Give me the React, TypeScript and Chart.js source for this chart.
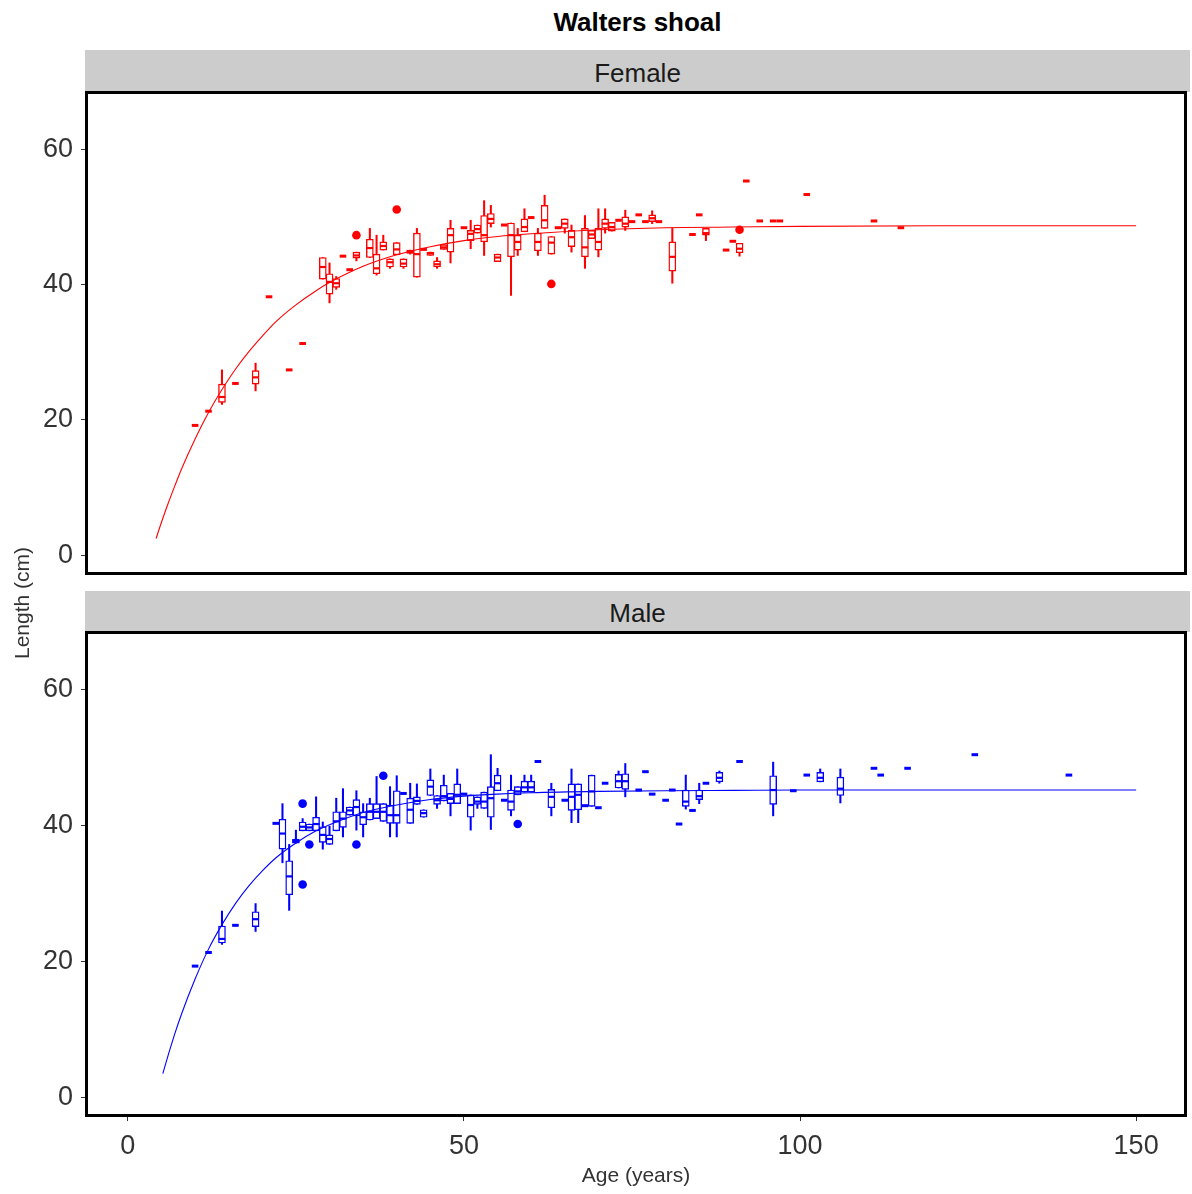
import React, { useEffect, useRef } from "react";
import { Chart, registerables } from "chart.js";

Chart.register(...registerables);

const xTickValues = [0, 50, 100, 150];
const yTickValues = [0, 20, 40, 60];

// Female: [age, min, q1, median, q3, max]
const femaleBoxes: number[][] = [
  [14, 22.3, 22.6, 23.4, 25.3, 27.4],
  [19, 24.3, 25.3, 26.3, 27.3, 28.4],
  [29, 40.8, 40.8, 42.6, 44.0, 44.0],
  [30, 37.3, 38.6, 40.4, 41.6, 43.2],
  [31, 39.3, 39.6, 40.2, 40.9, 41.2],
  [34, 43.5, 43.9, 44.3, 44.8, 44.8],
  [36, 44.0, 44.0, 45.4, 46.7, 48.3],
  [37, 41.4, 41.6, 42.4, 44.5, 47.3],
  [38, 45.1, 45.1, 45.7, 46.3, 47.3],
  [39, 42.4, 42.6, 43.3, 43.8, 43.8],
  [40, 44.4, 44.4, 45.2, 46.2, 46.2],
  [41, 42.4, 42.6, 43.1, 43.8, 43.8],
  [42, 44.5, 44.6, 44.8, 45.1, 45.1],
  [43, 41.1, 41.1, 44.5, 47.6, 48.3],
  [45, 44.3, 44.3, 44.6, 44.8, 44.8],
  [46, 42.4, 42.6, 43.0, 43.5, 44.0],
  [47, 45.2, 45.2, 45.5, 45.9, 45.9],
  [48, 43.2, 44.8, 47.3, 48.3, 49.5],
  [51, 45.3, 46.5, 47.5, 48.0, 49.5],
  [52, 47.6, 47.6, 48.2, 48.8, 48.8],
  [53, 44.3, 46.3, 47.3, 50.2, 52.4],
  [54, 48.5, 49.0, 49.7, 50.5, 51.7],
  [55, 43.4, 43.4, 44.0, 44.5, 44.5],
  [57, 38.4, 44.1, 47.3, 49.1, 49.1],
  [58, 44.3, 45.1, 46.3, 47.3, 48.3],
  [59, 47.8, 47.8, 48.5, 49.7, 51.2],
  [61, 44.3, 45.0, 46.3, 47.6, 48.3],
  [62, 48.3, 48.3, 49.5, 51.7, 53.2],
  [63, 44.5, 44.5, 46.2, 47.1, 47.1],
  [65, 47.6, 48.3, 49.0, 49.7, 49.7],
  [66, 44.8, 45.6, 47.0, 48.0, 48.8],
  [68, 42.4, 44.1, 45.5, 48.3, 50.2],
  [69, 46.8, 46.8, 47.4, 48.0, 48.0],
  [70, 44.1, 45.1, 46.3, 48.3, 51.2],
  [71, 47.6, 48.3, 49.0, 49.7, 51.2],
  [72, 47.9, 47.9, 48.5, 49.2, 49.2],
  [74, 48.0, 48.5, 49.0, 50.0, 51.0],
  [78, 49.0, 49.3, 49.8, 50.3, 50.9],
  [81, 40.2, 42.0, 44.1, 46.3, 48.3],
  [86, 46.5, 47.3, 47.6, 48.3, 48.3],
  [91, 44.2, 44.7, 45.3, 46.1, 46.1],
];
const femaleSingleAges = [10, 12, 16, 21, 24, 26, 32, 33, 44, 50, 56, 60, 64, 73, 75, 76, 77, 79, 84, 85, 89, 90, 92, 94, 96, 97, 101, 111, 115];
const femaleSingleLengths = [19.2, 21.3, 25.4, 38.2, 27.4, 31.3, 44.2, 42.2, 45.2, 48.4, 48.8, 49.9, 48.4, 49.5, 49.3, 50.3, 49.3, 49.3, 47.4, 50.3, 45.1, 46.4, 55.3, 49.4, 49.4, 49.4, 53.3, 49.4, 48.4];
const femaleOutlierAges = [34, 40, 63, 91];
const femaleOutlierLengths = [47.3, 51.1, 40.1, 48.1];
const femaleCurveAges = [4.2, 5, 6, 7, 8, 10, 12, 14, 16, 18, 20, 22, 25, 28, 30, 35, 40, 45, 50, 55, 60, 70, 80, 90, 100, 120, 150];
const femaleCurveLengths = [2.5, 4.9, 7.7, 10.3, 12.8, 17.2, 21.1, 24.5, 27.5, 30.1, 32.4, 34.5, 37.0, 39.1, 40.3, 42.7, 44.4, 45.6, 46.5, 47.1, 47.5, 48.1, 48.4, 48.5, 48.6, 48.7, 48.7];

// Male: [age, min, q1, median, q3, max]
const maleBoxes: number[][] = [
  [14, 22.5, 22.7, 23.3, 25.2, 27.4],
  [19, 24.4, 25.1, 26.2, 27.3, 28.5],
  [23, 34.5, 36.5, 38.8, 40.9, 43.2],
  [24, 27.5, 29.8, 32.5, 34.8, 37.2],
  [25, 37.4, 37.4, 37.7, 38.0, 39.3],
  [26, 39.2, 39.2, 39.8, 40.5, 41.0],
  [27, 39.2, 39.2, 39.7, 40.2, 40.2],
  [28, 39.2, 39.2, 40.2, 41.2, 44.2],
  [29, 36.5, 37.5, 38.6, 39.8, 40.5],
  [30, 37.2, 37.2, 38.0, 38.6, 39.9],
  [31, 39.2, 39.2, 40.6, 42.0, 44.0],
  [32, 38.3, 39.7, 41.0, 42.0, 45.4],
  [33, 41.5, 41.5, 42.2, 42.7, 42.7],
  [34, 39.3, 41.4, 42.7, 43.8, 45.1],
  [35, 38.3, 40.1, 41.2, 42.0, 43.2],
  [36, 40.8, 40.8, 42.0, 43.2, 44.0],
  [37, 41.0, 41.0, 42.0, 43.2, 47.2],
  [38, 40.6, 40.6, 42.0, 43.2, 43.2],
  [39, 38.3, 40.3, 41.5, 43.0, 45.7],
  [40, 38.3, 40.3, 41.5, 45.1, 47.3],
  [42, 40.3, 40.3, 42.3, 44.0, 46.2],
  [43, 43.1, 43.1, 43.6, 44.2, 46.1],
  [44, 41.2, 41.2, 41.8, 42.3, 42.3],
  [45, 44.4, 44.4, 45.7, 46.7, 48.3],
  [46, 42.5, 43.1, 43.7, 44.4, 44.4],
  [47, 43.6, 43.6, 44.3, 45.9, 47.4],
  [48, 41.4, 43.2, 43.9, 44.7, 44.7],
  [49, 43.2, 43.2, 44.5, 46.1, 48.3],
  [51, 39.3, 41.2, 43.0, 44.5, 44.5],
  [52, 42.5, 43.1, 43.5, 44.2, 44.2],
  [53, 42.5, 42.5, 43.5, 44.9, 44.9],
  [54, 39.4, 41.2, 44.0, 45.7, 50.4],
  [55, 45.1, 45.1, 46.2, 47.4, 48.4],
  [57, 41.4, 42.2, 43.5, 45.2, 47.4],
  [58, 44.5, 44.5, 45.0, 45.7, 45.7],
  [59, 44.9, 44.9, 45.6, 46.5, 47.4],
  [60, 44.9, 44.9, 45.6, 46.5, 47.4],
  [63, 41.4, 42.6, 44.2, 45.3, 46.2],
  [66, 40.4, 42.2, 44.2, 46.1, 48.3],
  [67, 40.4, 42.3, 44.5, 46.1, 46.1],
  [69, 42.8, 42.8, 45.0, 47.4, 47.4],
  [73, 45.5, 45.5, 46.5, 47.5, 48.0],
  [74, 44.2, 45.3, 46.5, 47.6, 49.1],
  [83, 42.4, 42.8, 43.5, 45.2, 47.4],
  [85, 43.2, 43.8, 44.3, 45.2, 46.2],
  [88, 46.2, 46.4, 47.0, 47.8, 48.0],
  [96, 41.4, 43.1, 45.2, 47.3, 49.3],
  [103, 46.4, 46.4, 47.0, 47.8, 48.3],
  [106, 43.3, 44.4, 45.4, 47.1, 48.3],
];
const maleSingleAges = [10, 12, 16, 22, 41, 50, 56, 61, 65, 68, 70, 71, 76, 77, 78, 80, 81, 82, 84, 86, 91, 99, 101, 111, 112, 116, 126, 140];
const maleSingleLengths = [19.3, 21.3, 25.3, 40.3, 44.7, 44.6, 43.7, 49.4, 43.7, 42.9, 42.6, 46.2, 45.2, 47.9, 44.6, 43.7, 45.2, 40.2, 42.2, 46.2, 49.4, 45.1, 47.4, 48.4, 47.4, 48.4, 50.4, 47.4];
const maleOutlierAges = [26, 26, 27, 34, 38, 58];
const maleOutlierLengths = [43.2, 31.3, 37.2, 37.2, 47.3, 40.2];
const maleCurveAges = [5.2, 6, 7, 8, 10, 12, 14, 16, 18, 20, 22, 25, 28, 30, 35, 40, 45, 50, 55, 60, 70, 80, 90, 100, 120, 150];
const maleCurveLengths = [3.5, 6.2, 9.4, 12.3, 17.4, 21.8, 25.4, 28.5, 31.1, 33.3, 35.2, 37.4, 39.2, 40.1, 41.9, 43.0, 43.8, 44.3, 44.6, 44.8, 45.0, 45.1, 45.15, 45.2, 45.2, 45.2];

const FONT = "'Liberation Sans', Arial, sans-serif";
const X_MIN = -6.08;
const X_MAX = 157.27;
const Y_MIN = -2.6;
const Y_MAX = 68.3;

const framePlugin = {
  id: "frame",
  afterDraw(chart: any) {
    const { ctx, chartArea } = chart;
    const { left, top, right, bottom } = chartArea;
    ctx.save();
    ctx.strokeStyle = "#000000";
    ctx.lineWidth = 3;
    ctx.strokeRect(left - 0.5, top - 0.5, right - left + 1, bottom - top + 1);
    ctx.restore();
  },
};

function buildDatasets(
  boxes: number[][],
  singleAges: number[],
  singleLens: number[],
  outAges: number[],
  outLens: number[],
  curveAges: number[],
  curveLens: number[],
  color: string
): any[] {
  return [
    {
      type: "line",
      data: curveAges.map((a, i) => ({ x: a, y: curveLens[i] })),
      borderColor: color,
      borderWidth: 1.1,
      pointRadius: 0,
      cubicInterpolationMode: "monotone",
      fill: false,
      order: 0,
    },
    {
      type: "scatter",
      data: outAges.map((a, i) => ({ x: a, y: outLens[i] })),
      backgroundColor: color,
      borderColor: color,
      borderWidth: 0,
      pointRadius: 4.3,
      order: 1,
    },
    {
      type: "scatter",
      data: singleAges.map((a, i) => ({ x: a, y: singleLens[i] })),
      pointStyle: "line",
      pointRadius: 3.3,
      borderColor: color,
      borderWidth: 3,
      order: 2,
    },
    {
      type: "scatter",
      data: boxes.map((b) => ({ x: b[0], y: b[3] })),
      pointStyle: "line",
      pointRadius: 3.3,
      borderColor: color,
      borderWidth: 2.2,
      order: 2,
    },
    {
      type: "bar",
      data: boxes.map((b) => ({ x: b[0], y: [b[2], b[4]] })),
      backgroundColor: "#ffffff",
      borderColor: color,
      borderWidth: 1.4,
      borderSkipped: false,
      barThickness: 7,
      grouped: false,
      order: 3,
    },
    {
      type: "bar",
      data: boxes.map((b) => ({ x: b[0], y: [b[1], b[5]] })),
      backgroundColor: color,
      borderWidth: 0,
      barThickness: 1.4,
      grouped: false,
      order: 4,
    },
  ];
}

function makeOptions(showX: boolean, padTop: number, padBottom: number): any {
  return {
    responsive: false,
    animation: false,
    devicePixelRatio: 1,
    layout: { padding: { top: padTop, right: 4, bottom: padBottom, left: 0 } },
    plugins: { legend: { display: false }, tooltip: { enabled: false }, title: { display: false } },
    events: [],
    scales: {
      x: {
        type: "linear",
        min: X_MIN,
        max: X_MAX,
        offset: false,
        display: showX,
        afterBuildTicks: (scale: any) => {
          scale.ticks = xTickValues.map((v) => ({ value: v }));
        },
        afterFit: (scale: any) => {
          if (showX) scale.height = 79;
          scale.paddingLeft = 0;
          scale.paddingRight = 0;
        },
        grid: { drawOnChartArea: false, drawTicks: true, tickLength: 6, color: "#333333", lineWidth: 1, offset: false },
        border: { display: false },
        ticks: { color: "#333333", font: { family: FONT, size: 27 }, padding: 9, maxRotation: 0, autoSkip: false },
        title: {
          display: showX,
          text: "Age (years)",
          color: "#333333",
          font: { family: FONT, size: 21 },
          padding: { top: 0, bottom: 5 },
        },
      },
      y: {
        type: "linear",
        min: Y_MIN,
        max: Y_MAX,
        afterBuildTicks: (scale: any) => {
          scale.ticks = yTickValues.map((v) => ({ value: v }));
        },
        afterFit: (scale: any) => {
          scale.width = 87;
          scale.paddingTop = 0;
          scale.paddingBottom = 0;
        },
        grid: { drawOnChartArea: false, drawTicks: true, tickLength: 6, color: "#333333", lineWidth: 1 },
        border: { display: false },
        ticks: { color: "#333333", font: { family: FONT, size: 27 }, padding: 8 },
      },
    },
  };
}

export default function App() {
  const topRef = useRef<HTMLCanvasElement>(null);
  const botRef = useRef<HTMLCanvasElement>(null);

  useEffect(() => {
    const top = new Chart(topRef.current as HTMLCanvasElement, {
      type: "bar",
      data: {
        datasets: buildDatasets(
          femaleBoxes,
          femaleSingleAges,
          femaleSingleLengths,
          femaleOutlierAges,
          femaleOutlierLengths,
          femaleCurveAges,
          femaleCurveLengths,
          "#ff0000"
        ),
      },
      options: makeOptions(false, 93, 10),
      plugins: [framePlugin],
    } as any);
    const bot = new Chart(botRef.current as HTMLCanvasElement, {
      type: "bar",
      data: {
        datasets: buildDatasets(
          maleBoxes,
          maleSingleAges,
          maleSingleLengths,
          maleOutlierAges,
          maleOutlierLengths,
          maleCurveAges,
          maleCurveLengths,
          "#0000ff"
        ),
      },
      options: makeOptions(true, 50, 0),
      plugins: [framePlugin],
    } as any);
    return () => {
      top.destroy();
      bot.destroy();
    };
  }, []);

  const stripStyle = (topPx: number, height: number): React.CSSProperties => ({
    position: "absolute",
    left: 85,
    top: topPx,
    width: 1105,
    height,
    background: "#cccccc",
    color: "#1a1a1a",
    fontFamily: FONT,
    fontSize: 26,
    lineHeight: `${height + 4}px`,
    textAlign: "center",
  });

  return (
    <div style={{ position: "absolute", left: 0, top: 0, width: 1192, height: 1194, background: "#ffffff", overflow: "hidden" }}>
      <div
        style={{
          position: "absolute",
          left: 85,
          top: 6,
          width: 1105,
          height: 32,
          lineHeight: "32px",
          textAlign: "center",
          fontFamily: FONT,
          fontWeight: "bold",
          fontSize: 26,
          color: "#000000",
        }}
      >
        Walters shoal
      </div>
      <div style={stripStyle(50, 42)}>Female</div>
      <div style={stripStyle(591, 41)}>Male</div>
      <canvas ref={topRef} width={1192} height={583} style={{ position: "absolute", left: 0, top: 0, width: 1192, height: 583 }} />
      <canvas ref={botRef} width={1192} height={611} style={{ position: "absolute", left: 0, top: 583, width: 1192, height: 611 }} />
      <div
        style={{
          position: "absolute",
          left: 22 - 100,
          top: 603 - 14,
          width: 200,
          height: 28,
          lineHeight: "28px",
          textAlign: "center",
          fontFamily: FONT,
          fontSize: 21,
          color: "#333333",
          transform: "rotate(-90deg)",
          transformOrigin: "50% 50%",
        }}
      >
        Length (cm)
      </div>
    </div>
  );
}
